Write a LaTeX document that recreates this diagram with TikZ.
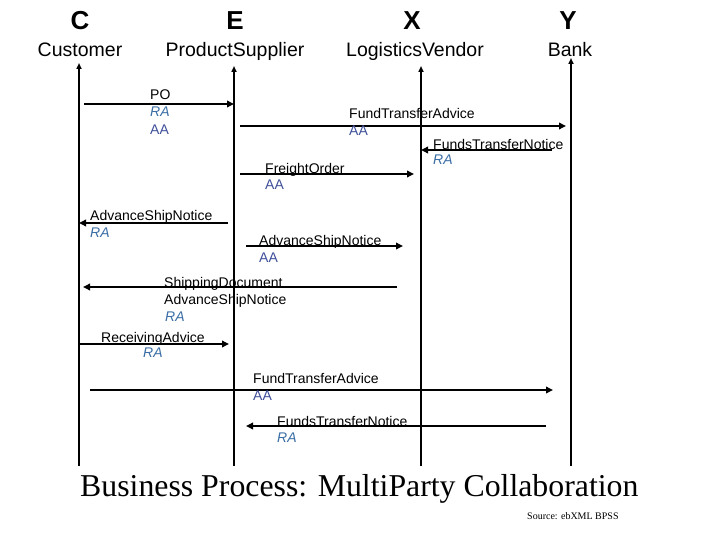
\documentclass[tikz,border=0pt]{standalone}
\usepackage{fontspec}
\setmainfont{Liberation Sans}
\newfontfamily\titleserif{Liberation Serif}
\usetikzlibrary{arrows.meta}
\definecolor{racol}{HTML}{3A6EA5}
\definecolor{aacol}{HTML}{40509A}
\begin{document}
\begin{tikzpicture}[x=1pt,y=-1pt,
  hdr/.style={anchor=base,inner sep=0pt,font=\fontsize{26}{28}\selectfont\bfseries},
  role/.style={anchor=base,inner sep=0pt,font=\fontsize{19.5}{22}\selectfont},
  lbl/.style={anchor=base west,inner sep=0pt,font=\fontsize{14}{16}\selectfont},
  ralbl/.style={lbl,text=racol,font=\fontsize{14}{16}\selectfont\itshape},
  aalbl/.style={lbl,text=aacol},
  lifeline/.style={line width=2pt,-{Triangle[length=6pt,width=5pt]}},
  msg/.style={line width=2.5pt,-{Triangle[length=7pt,width=6.5pt]}}]
\useasboundingbox (0,0) rectangle (720,540);
\fill[white] (0,0) rectangle (720,540);

% headers
\node[hdr] (hC) at (80,30) {C};
\node[hdr] (hE) at (235,30) {E};
\node[hdr] (hX) at (412,30) {X};
\node[hdr] (hY) at (568,30) {Y};
\node[role] (rC) at (80,57) {Customer};
\node[role] (rE) at (235,57) {ProductSupplier};
\node[role] (rX) at (415,57) {LogisticsVendor};
\node[role] (rY) at (570,57) {Bank};

% lifelines
\coordinate (cT) at (79,63);  \coordinate (cB) at (79,466);
\coordinate (eT) at (234,66); \coordinate (eB) at (234,466);
\coordinate (xT) at (421,66); \coordinate (xB) at (421,466);
\coordinate (yT) at (571,58); \coordinate (yB) at (571,466);
\draw[lifeline] (cB) -- (cT);
\draw[lifeline] (eB) -- (eT);
\draw[lifeline] (xB) -- (xT);
\draw[lifeline] (yB) -- (yT);

% 1 PO
\coordinate (m1s) at (84,104); \coordinate (m1e) at (234,104);
\draw[msg] (m1s) -- (m1e);
\node[lbl] (l1a) at (150,100) {PO};
\node[ralbl] (l1b) at (150,117) {RA};
\node[aalbl] (l1c) at (150,135) {AA};

% 2 FundTransferAdvice E->Y
\coordinate (m2s) at (240,126); \coordinate (m2e) at (566,126);
\draw[msg] (m2s) -- (m2e);
\node[lbl] (l2a) at (349,119) {FundTransferAdvice};
\node[aalbl] (l2b) at (349,136) {AA};

% 3 FundsTransferNotice Y->X
\coordinate (m3s) at (552,150); \coordinate (m3e) at (421,150);
\draw[msg] (m3s) -- (m3e);
\node[lbl] (l3a) at (433,150) {FundsTransferNotice};
\node[ralbl] (l3b) at (433,165) {RA};

% 4 FreightOrder E->X
\coordinate (m4s) at (240,174); \coordinate (m4e) at (414,174);
\draw[msg] (m4s) -- (m4e);
\node[lbl] (l4a) at (265,174) {FreightOrder};
\node[aalbl] (l4b) at (265,190) {AA};

% 5 AdvanceShipNotice E->C
\coordinate (m5s) at (228,223); \coordinate (m5e) at (79,223);
\draw[msg] (m5s) -- (m5e);
\node[lbl] (l5a) at (90,221) {AdvanceShipNotice};
\node[ralbl] (l5b) at (90,237) {RA};

% 6 AdvanceShipNotice E->X
\coordinate (m6s) at (246,246); \coordinate (m6e) at (403,246);
\draw[msg] (m6s) -- (m6e);
\node[lbl] (l6a) at (259,245) {AdvanceShipNotice};
\node[aalbl] (l6b) at (259,262) {AA};

% 7 ShippingDocument X->C
\coordinate (m7s) at (397,287); \coordinate (m7e) at (83,287);
\draw[msg] (m7s) -- (m7e);
\node[lbl] (l7a) at (164,287) {ShippingDocument};
\node[lbl] (l7b) at (164,304) {AdvanceShipNotice};
\node[ralbl] (l7c) at (165,321) {RA};

% 8 ReceivingAdvice C->E
\coordinate (m8s) at (79,344); \coordinate (m8e) at (229,344);
\draw[msg] (m8s) -- (m8e);
\node[lbl] (l8a) at (101,342) {ReceivingAdvice};
\node[ralbl] (l8b) at (143,357) {RA};

% 9 FundTransferAdvice C->Y
\coordinate (m9s) at (90,390); \coordinate (m9e) at (553,390);
\draw[msg] (m9s) -- (m9e);
\node[lbl] (l9a) at (253,383) {FundTransferAdvice};
\node[aalbl] (l9b) at (253,400) {AA};

% 10 FundsTransferNotice Y->E
\coordinate (m10s) at (546,426); \coordinate (m10e) at (246,426);
\draw[msg] (m10s) -- (m10e);
\node[lbl] (l10a) at (277,426) {FundsTransferNotice};
\node[ralbl] (l10b) at (277,442) {RA};

% title
\node[anchor=base west,inner sep=0pt,font=\titleserif\fontsize{31.8}{34}\selectfont] (title) at (80,496) {Business Process: MultiParty Collaboration};
\node[anchor=base west,inner sep=0pt,font=\titleserif\fontsize{10}{11}\selectfont] (src) at (527,519) {Source: ebXML BPSS};
\end{tikzpicture}
\end{document}
